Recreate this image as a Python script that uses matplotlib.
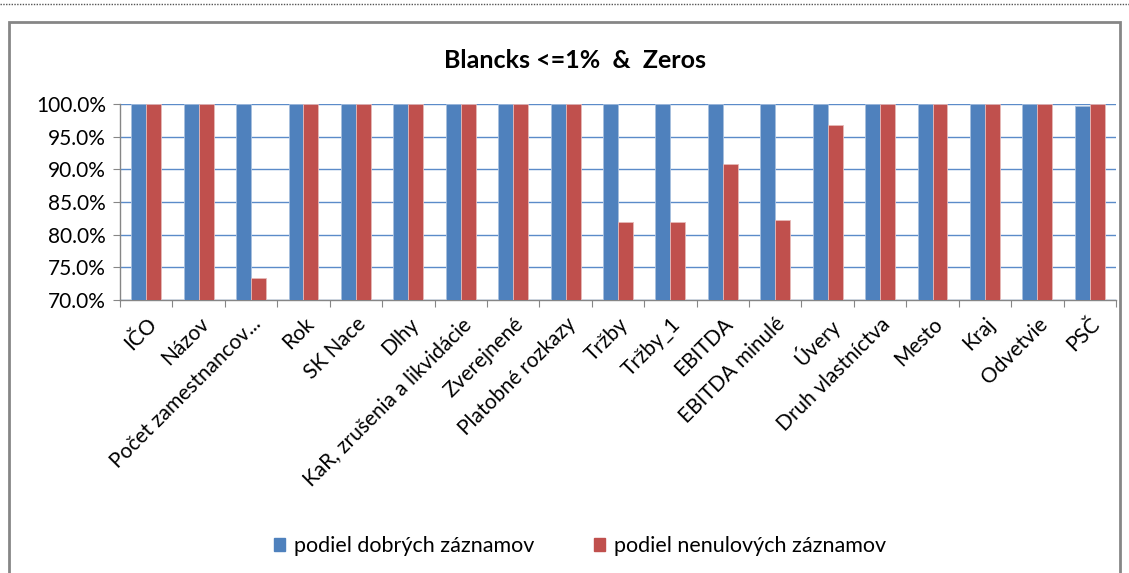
import matplotlib.pyplot as plt
import numpy as np
from matplotlib.patches import Rectangle
from matplotlib.lines import Line2D

# data
categories = ['IČO', 'Názov', 'Počet zamestnancov...', 'Rok', 'SK Nace', 'Dlhy',
              'KaR, zrušenia a likvidácie', 'Zverejnené', 'Platobné rozkazy', 'Tržby',
              'Tržby_1', 'EBITDA', 'EBITDA minulé', 'Úvery', 'Druh vlastníctva',
              'Mesto', 'Kraj', 'Odvetvie', 'PSČ']
dobre = [100.0, 100.0, 100.0, 100.0, 100.0, 100.0, 100.0, 100.0, 100.0, 100.0,
         100.0, 100.0, 100.0, 100.0, 100.0, 100.0, 100.0, 100.0, 99.7]
nenulove = [100.0, 100.0, 73.4, 100.0, 100.0, 100.0, 100.0, 100.0, 100.0, 82.0,
            82.0, 90.8, 82.3, 96.8, 100.0, 100.0, 100.0, 100.0, 100.0]
series_names = ['podiel dobrých záznamov', 'podiel nenulových záznamov']

blue = '#4F81BD'
red = '#C0504D'

plt.rcParams['font.family'] = ['Lato', 'DejaVu Sans']

fig = plt.figure(figsize=(11.29, 5.73), dpi=100)
ax = fig.add_axes([120 / 1129, 1 - 300 / 573, 996 / 1129, 196 / 573])

x = np.arange(len(categories))
w = 0.285
ax.bar(x - w / 2, dobre, w, color=blue, edgecolor='#A7BFDE', linewidth=0.6, zorder=3)
ax.bar(x + w / 2, nenulove, w, color=red, edgecolor='#E6B9B8', linewidth=0.6, zorder=3)

ax.set_ylim(70, 100)
ax.set_xlim(-0.5, len(categories) - 0.5)
ax.set_yticks(np.arange(70, 100.1, 5))
ax.set_yticklabels(['%.1f%%' % v for v in np.arange(70, 100.1, 5)], fontsize=15)
ax.yaxis.grid(True, color='#5B8BC9', linewidth=1.0, zorder=0)
ax.set_axisbelow(True)

ax.set_xticks(np.arange(-0.5, len(categories), 1.0), minor=False)
ax.set_xticklabels([])
ax.set_xticks(x, minor=True)
ax.set_xticklabels(categories, minor=True, rotation=45, ha='right', va='top',
                   rotation_mode='anchor', fontsize=15)
ax.tick_params(axis='x', which='minor', length=0, pad=10)
ax.tick_params(axis='x', which='major', length=5, color='#868686', direction='out')
ax.tick_params(axis='y', length=5, color='#868686', direction='out', pad=5)

for s in ['top', 'right']:
    ax.spines[s].set_visible(False)
for s in ['left', 'bottom']:
    ax.spines[s].set_color('#868686')
    ax.spines[s].set_linewidth(1.0)

fig.text(575 / 1129, 1 - 60 / 573, 'Blancks <=1%  &  Zeros', ha='center', va='center',
         fontsize=18, fontweight='bold')

handles = [Rectangle((0, 0), 1, 1, color=blue), Rectangle((0, 0), 1, 1, color=red)]
fig.legend(handles, series_names, loc='center', bbox_to_anchor=(580 / 1129, 1 - 546 / 573),
           ncol=2, frameon=False, fontsize=15.5, handlelength=0.5, handleheight=0.6,
           columnspacing=2.8, handletextpad=0.4)

# outer chart frame and dotted line on top
fig.add_artist(Rectangle((9 / 1129, -0.05), 1111 / 1129, 1 - 22 / 573 + 0.05,
                         transform=fig.transFigure, fill=False, edgecolor='#868686',
                         linewidth=2))
fig.add_artist(Line2D([0, 1], [1 - 4 / 573, 1 - 4 / 573], transform=fig.transFigure,
                      color='#555555', linewidth=1, linestyle=(0, (1, 1))))

plt.savefig('out.png', dpi=100)
